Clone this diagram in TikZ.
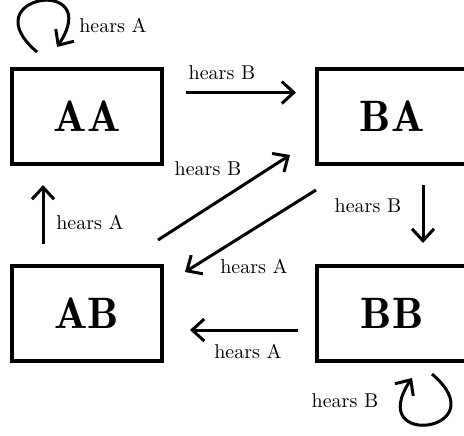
\documentclass[tikz,border=0pt]{standalone}
\usepackage{tikz}
\usetikzlibrary{calc,arrows.meta,positioning}

\begin{document}
\begin{tikzpicture}[x=0.5pt,y=-0.5pt,
    state/.style={draw,line width=2pt,minimum width=75pt,minimum height=47.5pt,
      font=\fontsize{22}{26}\fontseries{b}\selectfont},
    trans/.style={line width=1.5pt,-{Straight Barb[length=6pt,width=11pt]}}]

    \useasboundingbox (0,0) rectangle (464,435);

    \node (AA) at (87,116.5) [state] {AA};
    \node (BA) at (392,116.5) [state] {BA};
    \node (AB) at (87,313.5) [state] {AB};
    \node (BB) at (392,313.5) [state] {BB};

    \draw[trans] ([xshift=11pt,yshift=12pt]AA.east) -- ([xshift=-9.5pt,yshift=12pt]BA.west);
    \draw[trans] ([xshift=-22pt,yshift=10pt]AB.north) -- ([xshift=-22pt,yshift=-9.5pt]AA.south);
    \draw[trans] ([xshift=15.5pt,yshift=-9.5pt]BA.south) -- ([xshift=15.5pt,yshift=10.5pt]BB.north);
    \draw[trans] ([xshift=-8.5pt,yshift=-8.25pt]BB.west) -- ([xshift=13pt,yshift=-8.25pt]AB.east);
    \draw[trans] ([xshift=-3pt,yshift=12pt]AB.north east) -- ([xshift=-12.5pt,yshift=5.5pt]BA.south west);
    \draw[trans] ([xshift=0.5pt,yshift=-12pt]BA.south west) -- ([xshift=10.5pt,yshift=-4pt]AB.north east);

%    self loops
    \coordinate (AAout) at ([xshift=-25pt,yshift=7.5pt]AA.north);
    \coordinate (AAin) at ([xshift=-15pt,yshift=10pt]AA.north);
    \draw[trans] (AAout) .. controls ($(AAout)+(-67,-57)$) and ($(AAin)+(48,-72)$) .. (AAin);
    \coordinate (BBout) at ([xshift=20pt,yshift=-5.5pt]BB.south);
    \coordinate (BBin) at ([xshift=10pt,yshift=-7.5pt]BB.south);
    \draw[trans] (BBout) .. controls ($(BBout)+(67,57)$) and ($(BBin)+(-48,72)$) .. (BBin);

    \node (hAA) at (113,25) {hears A};
    \node (hAABA) at (222,73) {hears B};
    \node (hABBA) at (208,169) {hears B};
    \node (hABAA) at (90,222) {hears A};
    \node (hBABB) at (368,206) {hears B};
    \node (hBAAB) at (254,266) {hears A};
    \node (hBBAB) at (248,351) {hears A};
    \node (hBB) at (345,401) {hears B};

  \end{tikzpicture}
\end{document}
